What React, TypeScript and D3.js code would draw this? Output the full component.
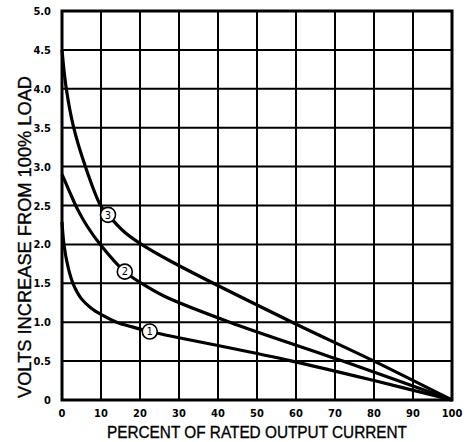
import React from "react";
import * as d3 from "d3";

const xTicks = [0, 10, 20, 30, 40, 50, 60, 70, 80, 90, 100];
const yTicks = [0, 0.5, 1.0, 1.5, 2.0, 2.5, 3.0, 3.5, 4.0, 4.5, 5.0];
const yTickLabels = ["0", "0.5", "1.0", "1.5", "2.0", "2.5", "3.0", "3.5", "4.0", "4.5", "5.0"];

const curve1: [number, number][] = [
  [0, 2.29], [0.5, 2.0], [1.5, 1.72], [2.8, 1.5], [5, 1.3], [7.5, 1.18], [10, 1.1],
  [14, 1.0], [18, 0.94], [22.5, 0.88], [30, 0.8], [40, 0.7], [59, 0.5], [80, 0.25], [100, 0],
];
const curve2: [number, number][] = [
  [0, 2.9], [2, 2.67], [4, 2.45], [6.5, 2.23], [9.8, 2.0], [16.1, 1.65], [20.4, 1.5],
  [26.4, 1.33], [43, 1.0], [72, 0.5], [100, 0],
];
const curve3: [number, number][] = [
  [0, 4.5], [1.1, 4.0], [3, 3.5], [6, 3.0], [9.9, 2.5], [11.8, 2.38],
  [16, 2.16], [20.4, 2.0], [28, 1.78], [59, 1.0], [80, 0.5], [100, 0],
];
const series = [curve1, curve2, curve3];
const markerLabels = ["1", "2", "3"];
const markerPoints: [number, number][] = [[22.5, 0.88], [16.1, 1.65], [11.8, 2.38]];

const W = 468;
const H = 442;
const left = 62;
const right = 452;
const top = 11;
const bottom = 400;

export default function App() {
  const x = d3.scaleLinear().domain([0, 100]).range([left, right]);
  const y = d3.scaleLinear().domain([0, 5]).range([bottom, top]);
  const line = d3
    .line<[number, number]>()
    .x((d) => x(d[0]))
    .y((d) => y(d[1]))
    .curve(d3.curveCatmullRom.alpha(0.5));
  const tickFont = "'DejaVu Sans Condensed', 'Liberation Sans Narrow', sans-serif";
  const titleFont = "'Liberation Sans', Arial, Helvetica, sans-serif";
  return (
    <svg
      width={W}
      height={H}
      viewBox={`0 0 ${W} ${H}`}
      style={{ position: "absolute", left: 0, top: 0, background: "#fff" }}
    >
      <rect x={0} y={0} width={W} height={H} fill="#fff" />
      {xTicks.map((t) => (
        <line key={"gx" + t} x1={x(t)} x2={x(t)} y1={top} y2={bottom} stroke="#000" strokeWidth={2} />
      ))}
      {yTicks.map((t) => (
        <line key={"gy" + t} x1={left} x2={right} y1={y(t)} y2={y(t)} stroke="#000" strokeWidth={2} />
      ))}
      <rect x={left} y={top} width={right - left} height={bottom - top} fill="none" stroke="#000" strokeWidth={3} />
      {series.map((s, i) => (
        <path key={"c" + i} d={line(s) || ""} fill="none" stroke="#000" strokeWidth={3.2} strokeLinejoin="round" />
      ))}
      {markerPoints.map((p, i) => (
        <g key={"m" + i}>
          <circle cx={x(p[0])} cy={y(p[1])} r={7.5} fill="#fff" stroke="#000" strokeWidth={1.6} />
          <text
            x={x(p[0])}
            y={y(p[1]) + 3.8}
            textAnchor="middle"
            fontFamily={tickFont}
            fontSize={11}
            fill="#000"
          >
            {markerLabels[i]}
          </text>
        </g>
      ))}
      {xTicks.map((t) => (
        <text
          key={"tx" + t}
          x={x(t)}
          y={417}
          textAnchor="middle"
          fontFamily={tickFont}
          fontWeight="bold"
          fontSize={11}
          fill="#000"
        >
          {t}
        </text>
      ))}
      {yTicks.map((t, i) => (
        <text
          key={"ty" + t}
          x={51}
          y={y(t) + 4}
          textAnchor="end"
          fontFamily={tickFont}
          fontWeight="bold"
          fontSize={11}
          fill="#000"
        >
          {yTickLabels[i]}
        </text>
      ))}
      <text
        x={257}
        y={438}
        textAnchor="middle"
        fontFamily={titleFont}
        fontSize={17}
        textLength={300}
        lengthAdjust="spacingAndGlyphs"
        fill="#000"
        stroke="#000"
        strokeWidth={0.35}
      >
        PERCENT OF RATED OUTPUT CURRENT
      </text>
      <text
        transform={`translate(31, 237) rotate(-90)`}
        textAnchor="middle"
        fontFamily={titleFont}
        fontSize={18}
        textLength={322}
        lengthAdjust="spacingAndGlyphs"
        fill="#000"
        stroke="#000"
        strokeWidth={0.35}
      >
        VOLTS INCREASE FROM 100% LOAD
      </text>
    </svg>
  );
}
